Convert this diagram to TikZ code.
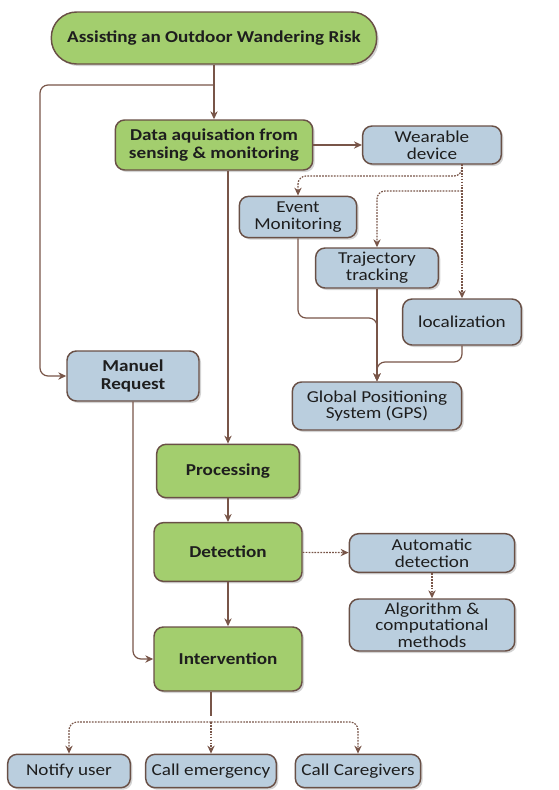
\documentclass[tikz,border=0pt]{standalone}
\usepackage{fontspec}
\setmainfont{Carlito}[FakeStretch=1.15]
\usetikzlibrary{arrows.meta, positioning, shadows, calc}
\definecolor{flowgreen}{RGB}{163,206,110}
\definecolor{flowblue}{RGB}{186,206,222}
\definecolor{flowedge}{RGB}{105,80,70}
\definecolor{flowline}{RGB}{120,85,72}
\definecolor{flowtext}{RGB}{30,30,30}
\tikzset{
  gbox/.style  = {draw=flowedge, line width=1.1pt, rounded corners=7pt, fill=flowgreen,
                  align=center, text=flowtext, inner sep=1pt,
                  font=\fontsize{12.5}{13}\selectfont\bfseries,
                  drop shadow={opacity=0.35, shadow xshift=1.5pt, shadow yshift=-1.5pt}},
  bbox/.style  = {draw=flowedge, line width=1.1pt, rounded corners=7pt, fill=flowblue,
                  align=center, text=flowtext, inner sep=1pt,
                  font=\fontsize{12.5}{12.5}\selectfont,
                  drop shadow={opacity=0.35, shadow xshift=1.5pt, shadow yshift=-1.5pt}},
  arr/.style   = {-{Stealth[length=6pt, width=5.5pt]}, flowline, line width=0.9pt, rounded corners=6pt},
  darr/.style  = {arr, dash pattern=on 1.3pt off 0.9pt},
  link/.style  = {flowline, line width=0.9pt, rounded corners=6pt},
}

\begin{document}
\begin{tikzpicture}[x=0.75pt, y=-0.75pt]
  \useasboundingbox (0,0) rectangle (558,790);
  % main column
  \node[gbox, rounded corners=19pt, minimum width=244pt, minimum height=39pt] (start) at (214,38) {Assisting an Outdoor Wandering Risk};
  \node[gbox, minimum width=148pt, minimum height=37.5pt] (data) at (214,145) {Data aquisation from\\sensing \& monitoring};
  \node[gbox, minimum width=107pt, minimum height=40pt] (proc) at (228,471) {Processing};
  \node[gbox, minimum width=111pt, minimum height=44pt] (det) at (228,552) {Detection};
  \node[gbox, minimum width=111pt, minimum height=48pt] (interv) at (228,659) {Intervention};
  % sensing side
  \node[bbox, minimum width=104pt, minimum height=28.5pt] (wear) at (432,145) {Wearable\\device};
  \node[bbox, minimum width=88pt, minimum height=31pt] (event) at (298,217) {Event\\Monitoring};
  \node[bbox, minimum width=92pt, minimum height=30pt] (traj) at (377,268) {Trajectory\\tracking};
  \node[bbox, minimum width=89pt, minimum height=34.5pt] (loc) at (462,322) {localization};
  \node[bbox, minimum width=127pt, minimum height=36pt] (gps) at (377,406) {Global Positioning\\System (GPS)};
  \node[bbox, font=\fontsize{12.5}{13}\selectfont\bfseries, minimum width=99pt, minimum height=37.5pt] (manuel) at (133,376) {Manuel\\Request};
  % detection side
  \node[bbox, minimum width=124pt, minimum height=29pt] (auto) at (432,553) {Automatic\\detection};
  \node[bbox, minimum width=124pt, minimum height=39pt] (algo) at (432,625) {Algorithm \&\\computational\\methods};
  % actions
  \node[bbox, minimum width=92pt, minimum height=25pt] (notify) at (69,771) {Notify user};
  \node[bbox, minimum width=98pt, minimum height=25pt] (emerg) at (211,771) {Call emergency};
  \node[bbox, minimum width=94pt, minimum height=25pt] (care) at (358,771) {Call Caregivers};

  \coordinate (split) at (214,85);
  \coordinate (lft) at (40,85);
  \coordinate (wsrc) at (462,164);
  \coordinate (w1) at (462,176);
  \coordinate (w2) at (462,191);
  \coordinate (j1) at (377,318);
  \coordinate (j2) at (462,362);
  \coordinate (fork) at (211,722);

  \draw[arr] (start) -- (data);
  \draw[arr] (split) -- (lft) |- (manuel.west);
  \draw[arr] (data) -- (wear);
  \draw[arr] (proc.north |- data.south) -- (proc.north);
  \draw[darr] (wsrc) -- (w1) -| (event.north);
  \draw[darr] (w2) -| (traj.north);
  \draw[darr] (wsrc) -- (loc.north);
  \draw[arr] (event.south) |- (j1) -- (gps.north);
  \draw[arr] (traj) -- (gps);
  \draw[arr] (loc.south) -- (j2) -| (gps.north);
  \draw[arr] (manuel.south) |- (interv.west);
  \draw[arr] (proc) -- (det);
  \draw[arr] (det) -- (interv);
  \draw[darr] (det) -- (auto);
  \draw[darr] (auto) -- (algo);
  \draw[link] (fork |- interv.south) -- ($(fork)+(0,-6)$);
  \draw[darr] (fork) -| (notify.north);
  \draw[darr] (fork) -- (emerg.north);
  \draw[darr] (fork) -| (care.north);
\end{tikzpicture}
\end{document}
